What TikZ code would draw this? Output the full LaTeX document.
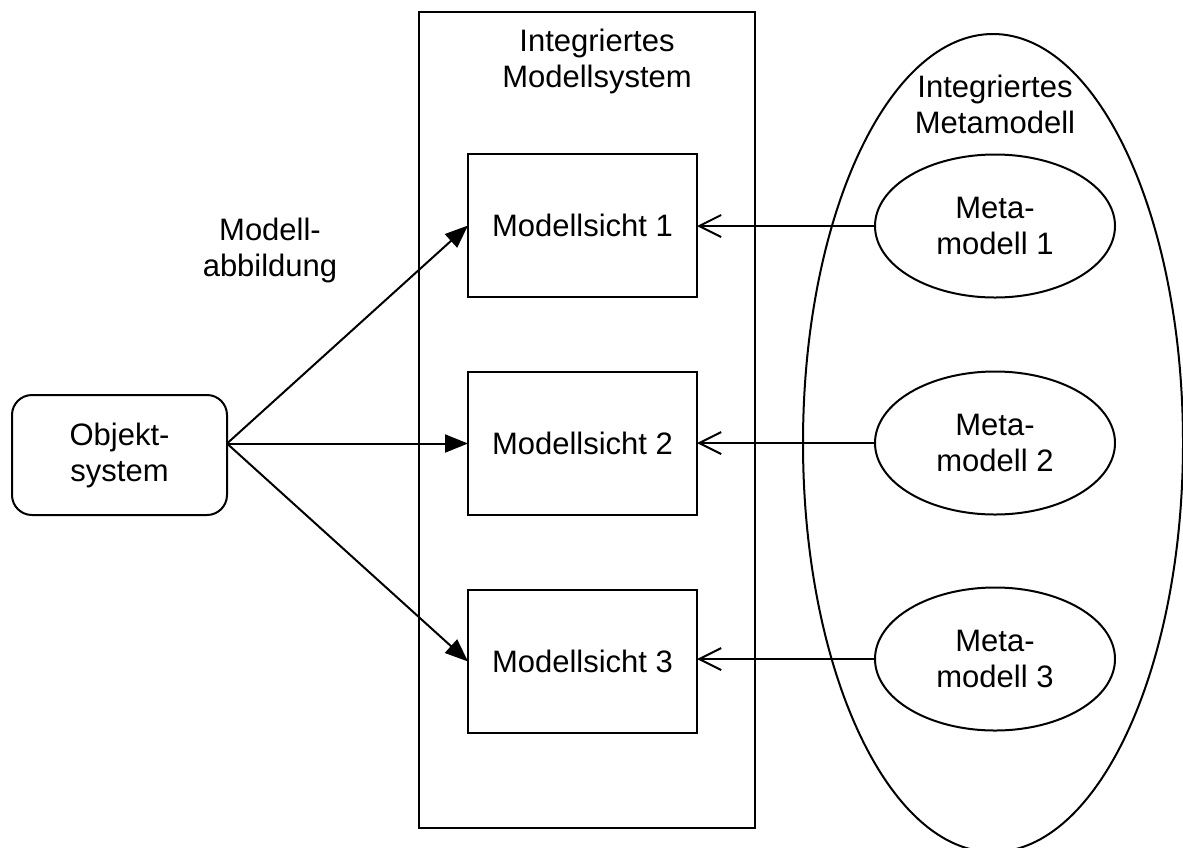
\documentclass[tikz,border=0pt]{standalone}
\usepackage{fontspec}
\setmainfont{Liberation Sans}
\usetikzlibrary{shapes.geometric,arrows.meta}
\begin{document}
\begin{tikzpicture}[x=1pt,y=-1pt,
  every node/.style={font=\fontsize{31}{36}\selectfont, align=center, inner sep=0pt, outer sep=0pt},
  line/.style={line width=2pt},
  viewbox/.style={draw, line, minimum width=229pt, minimum height=143pt},
  metaell/.style={draw, line, ellipse, minimum width=240pt, minimum height=143pt},
  mapping/.style={line, -{Triangle[length=23pt,width=18pt]}},
  derive/.style={line, -{Straight Barb[length=22pt,width=22pt,line width=2pt]}}
]
\useasboundingbox (0,0) rectangle (1183,847);
\clip (0,0) rectangle (1183,847);

% integrated model system
\node[draw, line, minimum width=336pt, minimum height=816pt] (sys) at (586.5,420) {};
\node (systitle) at (597,61) {Integriertes\\Modellsystem};

% integrated meta model
\node[draw, line, ellipse, minimum width=380pt, minimum height=818pt] (meta) at (993,443) {};
\node (metatitle) at (995,104) {Integriertes\\Metamodell};

% object system
\node[draw, line, rounded corners=20pt, minimum width=215pt, minimum height=120pt] (obj) at (119.5,455) {Objekt-\\system};

% model views
\node[viewbox] (v1) at (582.5,225.5) {Modellsicht 1};
\node[viewbox] (v2) at (582.5,443.5) {Modellsicht 2};
\node[viewbox] (v3) at (582.5,661.5) {Modellsicht 3};

% meta models
\node[metaell] (m1) at (995,226) {Meta-\\modell 1};
\node[metaell] (m2) at (995,443) {Meta-\\modell 2};
\node[metaell] (m3) at (995,659) {Meta-\\modell 3};

% mapping label
\node (maplabel) at (270,250) {Modell-\\abbildung};

% mappings from the object system
\coordinate (objout) at (obj.east |- v2.west);
\draw[mapping] (objout) -- (v1.west);
\draw[mapping] (objout) -- (v2.west);
\draw[mapping] (objout) -- (v3.west);

% meta models define the views
\draw[derive] (m1.west) -- (m1.west -| v1.east);
\draw[derive] (m2.west) -- (m2.west -| v2.east);
\draw[derive] (m3.west) -- (m3.west -| v3.east);
\end{tikzpicture}
\end{document}
